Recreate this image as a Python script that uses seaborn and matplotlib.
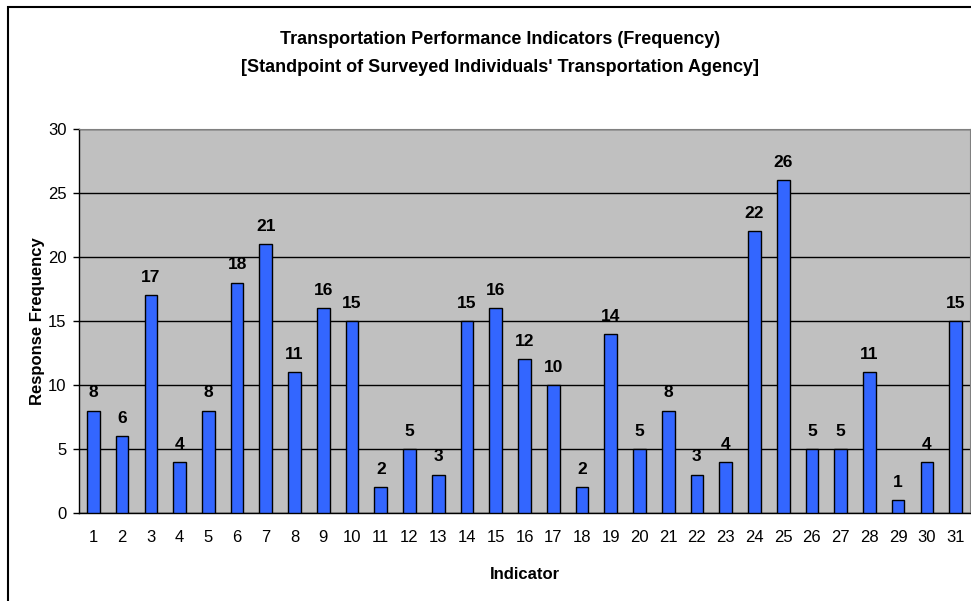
import matplotlib
matplotlib.use("Agg")
import matplotlib.pyplot as plt
import seaborn as sns
import pandas as pd
from matplotlib.patches import Rectangle
from matplotlib.ticker import MultipleLocator, FixedLocator

indicators = [str(i) for i in range(1, 32)]
frequency = [8, 6, 17, 4, 8, 18, 21, 11, 16, 15, 2, 5, 3, 15, 16, 12,
             10, 2, 14, 5, 8, 3, 4, 22, 26, 5, 5, 11, 1, 4, 15]

df = pd.DataFrame({"Indicator": indicators, "Frequency": frequency})

sns.set_style("white")
plt.rcParams["font.family"] = ["Liberation Sans", "DejaVu Sans"]
plt.rcParams["text.color"] = "black"
plt.rcParams["xtick.color"] = "black"
plt.rcParams["ytick.color"] = "black"
plt.rcParams["axes.labelcolor"] = "black"

fig = plt.figure(figsize=(9.71, 6.01), dpi=100)
ax = fig.add_axes([79 / 971, 88 / 601, 891 / 971, 384 / 601])
ax.set_facecolor("#C0C0C0")

sns.barplot(data=df, x="Indicator", y="Frequency", color="#3366FF",
            width=0.44, edgecolor="black", linewidth=1, saturation=1, ax=ax, zorder=3)

ax.set_ylim(0, 30)
ax.set_xlim(-0.5, 30.5)
ax.yaxis.set_major_locator(MultipleLocator(5))
ax.grid(axis="y", color="black", linewidth=1, zorder=0)
ax.set_axisbelow(True)

for i, v in enumerate(frequency):
    ax.text(i, v + 0.8, str(v), ha="center", va="bottom",
            fontsize=12.5, fontweight="bold", color="black")

for side in ["top", "right"]:
    ax.spines[side].set_color("#808080")
for side in ["left", "bottom"]:
    ax.spines[side].set_color("black")
    ax.spines[side].set_linewidth(1)

ax.tick_params(axis="x", which="major", length=0, pad=12, labelsize=12)
ax.xaxis.set_minor_locator(FixedLocator([i - 0.5 for i in range(32)]))
ax.tick_params(axis="x", which="minor", length=5, width=1, color="black", direction="out")
ax.tick_params(axis="y", length=4, width=1, color="black", direction="out", pad=5, labelsize=12, left=True)

ax.set_xlabel("Indicator", fontsize=12, fontweight="bold", labelpad=16)
ax.set_ylabel("Response Frequency", fontsize=12, fontweight="bold", labelpad=2)

fig.text(0.515, 1 - 40 / 601, "Transportation Performance Indicators (Frequency)",
         ha="center", va="center", fontsize=13, fontweight="bold")
fig.text(0.515, 1 - 68 / 601, "[Standpoint of Surveyed Individuals' Transportation Agency]",
         ha="center", va="center", fontsize=13, fontweight="bold")

fig.patches.append(Rectangle((7.5 / 971, -0.05), 1.1, 1.05 - 7.5 / 601,
                             transform=fig.transFigure, fill=False,
                             edgecolor="black", linewidth=1.5))

fig.savefig("out.png", dpi=100)
